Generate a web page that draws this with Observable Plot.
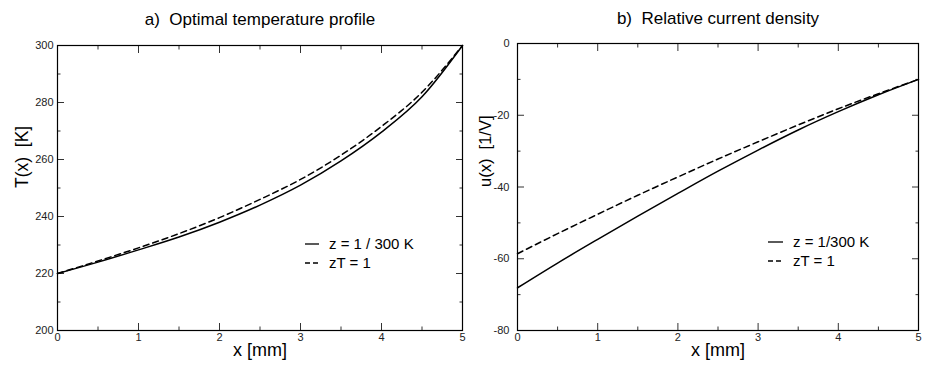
<!DOCTYPE html>
<html>
<head>
<meta charset="utf-8">
<script src="https://cdn.jsdelivr.net/npm/d3@7"></script>
<script src="https://cdn.jsdelivr.net/npm/@observablehq/plot@0.6"></script>
<style>
  html, body { margin: 0; padding: 0; background: #fff; }
  #wrap { position: relative; width: 929px; height: 371px; font-family: "Liberation Sans", Arial, Helvetica, sans-serif; }
  .panel { position: absolute; top: 0; }
  .legend { position: absolute; font-size: 15px; color: #000; line-height: 19px; }
  .legend div { display: flex; align-items: center; white-space: pre; }
  .legend svg { margin-right: 10px; }
</style>
</head>
<body>
<div id="wrap"></div>
<script>
// ---- data ----
const xs = [0, 0.5, 1, 1.5, 2, 2.5, 3, 3.5, 4, 4.5, 5];
// a) optimal temperature profile T(x) [K]
const tempZ300 = [220, 224, 228.3, 232.8, 238, 244, 251, 259.5, 269.6, 282, 300];
const tempZT1  = [220, 224.4, 229, 234, 239.6, 246, 253, 261.5, 271.6, 283.6, 300];
// b) relative current density u(x) [1/V]
const curZ300 = [-68.1, -61.2, -54.6, -48.1, -41.8, -35.6, -29.7, -24.1, -19.0, -14.3, -10.0];
const curZT1  = [-58.6, -53.0, -47.6, -42.3, -37.2, -32.2, -27.4, -22.7, -18.2, -14.0, -10.0];

const xMajor = [0, 1, 2, 3, 4, 5];
const xMinor = [0.5, 1.5, 2.5, 3.5, 4.5];
const tMajor = [200, 220, 240, 260, 280, 300];
const tMinor = [210, 230, 250, 270, 290];
const uMajor = [-80, -60, -40, -20, 0];
const uMinor = [-70, -50, -30, -10];

const seriesNames = ["z = 1 / 300 K", "zT = 1"];
const seriesNamesB = ["z = 1/300 K", "zT = 1"];

const toRows = (ys) => xs.map((x, i) => ({x, y: ys[i]}));

function panel({title, ylabel, yDomain, yMajor, yMinor, solid, dashed, width, mL, mR, mT, mB, yPad, labelDx, labelSize, titleDy}) {
  const blank = () => "";
  const tk = "#333";
  return Plot.plot({
    width, height: 371,
    marginLeft: mL, marginRight: mR, marginTop: mT, marginBottom: mB,
    style: {fontFamily: "Liberation Sans, Arial, Helvetica, sans-serif", fontSize: "11px", color: "#000", background: "#fff"},
    x: {domain: [0, 5]},
    y: {domain: yDomain},
    marks: [
      // tick labels
      Plot.axisX({anchor: "bottom", ticks: xMajor, tickSize: 0, tickPadding: 3, tickFormat: d => String(d), label: null, fill: "#222", fontSize: 11}),
      Plot.axisY({anchor: "left", ticks: yMajor, tickSize: 0, tickPadding: yPad, tickFormat: d => String(d), label: null, fill: "#222", fontSize: 11}),
      // inward ticks, all four sides
      Plot.axisX({anchor: "bottom", ticks: xMajor, tickSize: -7, tickFormat: blank, label: null, stroke: tk}),
      Plot.axisX({anchor: "bottom", ticks: xMinor, tickSize: -3.5, tickFormat: blank, label: null, stroke: tk}),
      Plot.axisX({anchor: "top", ticks: xMajor, tickSize: -7, tickFormat: blank, label: null, stroke: tk}),
      Plot.axisX({anchor: "top", ticks: xMinor, tickSize: -3.5, tickFormat: blank, label: null, stroke: tk}),
      Plot.axisY({anchor: "left", ticks: yMajor, tickSize: -7, tickFormat: blank, label: null, stroke: tk}),
      Plot.axisY({anchor: "left", ticks: yMinor, tickSize: -3.5, tickFormat: blank, label: null, stroke: tk}),
      Plot.axisY({anchor: "right", ticks: yMajor, tickSize: -7, tickFormat: blank, label: null, stroke: tk}),
      Plot.axisY({anchor: "right", ticks: yMinor, tickSize: -3.5, tickFormat: blank, label: null, stroke: tk}),
      Plot.frame({stroke: "#000", strokeWidth: 1.2}),
      // curves
      Plot.line(toRows(solid), {x: "x", y: "y", curve: "monotone-x", stroke: "#000", strokeWidth: 1.5}),
      Plot.line(toRows(dashed), {x: "x", y: "y", curve: "monotone-x", stroke: "#000", strokeWidth: 1.5, strokeDasharray: "6,4"}),
      // axis titles and panel title
      Plot.text(["x [mm]"], {frameAnchor: "bottom", dy: 25, fontSize: 18, fill: "#000"}),
      Plot.text([ylabel], {frameAnchor: "left", dx: labelDx, rotate: -90, fontSize: labelSize, fill: "#000"}),
      Plot.text([title], {frameAnchor: "top", dy: titleDy, fontSize: 17, fill: "#000"})
    ]
  });
}

const wrap = document.getElementById("wrap");

const left = panel({
  title: "a)\u00a0 Optimal temperature profile", ylabel: "T(x)\u00a0 [K]",
  yDomain: [200, 300], yMajor: tMajor, yMinor: tMinor,
  solid: tempZ300, dashed: tempZT1,
  width: 470, mL: 57, mR: 8, mT: 45, mB: 41, yPad: 4, labelDx: -35, labelSize: 17.5, titleDy: -33
});
left.classList.add("panel");
left.style.left = "0px";
wrap.appendChild(left);

const right = panel({
  title: "b)\u00a0 Relative current density", ylabel: "u(x)\u00a0 [1/V]",
  yDomain: [-80, 0], yMajor: uMajor, yMinor: uMinor,
  solid: curZ300, dashed: curZT1,
  width: 459, mL: 47, mR: 11, mT: 43, mB: 41, yPad: 8, labelDx: -32, labelSize: 16.5, titleDy: -32
});
right.classList.add("panel");
right.style.left = "470px";
wrap.appendChild(right);

function legend(names, left, top, lineW) {
  const d = document.createElement("div");
  d.className = "legend";
  d.style.left = left + "px";
  d.style.top = top + "px";
  const dashes = [null, "5,3"];
  names.forEach((n, i) => {
    const row = document.createElement("div");
    row.innerHTML = `<svg width="${lineW}" height="10"><line x1="0" x2="${lineW}" y1="5" y2="5" stroke="#000" stroke-width="1.3" ${dashes[i] ? `stroke-dasharray="${dashes[i]}"` : ""}/></svg>`;
    row.appendChild(document.createTextNode(n));
    d.appendChild(row);
  });
  wrap.appendChild(d);
}
legend(seriesNames, 305, 234, 14);
legend(seriesNamesB, 768, 232, 15);
</script>
</body>
</html>
